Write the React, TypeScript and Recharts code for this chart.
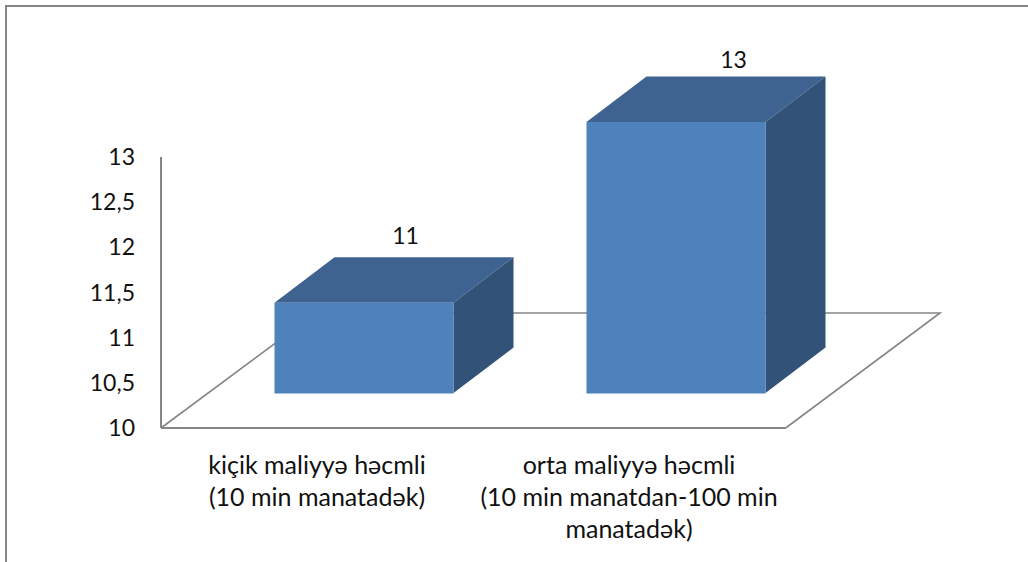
import { BarChart, Bar, XAxis, YAxis, LabelList, Customized, usePlotArea } from 'recharts';

const categories = ['kiçik maliyyə həcmli\n(10 min manatadək)', 'orta maliyyə həcmli\n(10 min manatdan-100 min\nmanatadək)'];
const values = [11, 13];
const yTicks = [10, 10.5, 11, 11.5, 12, 12.5, 13];

const data = categories.map((name, i) => ({ name, value: values[i] }));

const FONT = 'Lato, "Open Sans", sans-serif';
const AXIS = '#868686';
const TEXT = '#111111';

// fake 3d: the front face sits forward on the floor, side and top recede back by DEPTH
const SHIFT_X = 46.5;
const SHIFT_Y = -35;
const DEPTH_X = 60;
const DEPTH_Y = -45.5;
const labelNudge = [{ dx: 88, dy: -68 }, { dx: 104, dy: -63 }];

function Floor() {
  const plot = usePlotArea();
  if (!plot) return null;
  const left = plot.x;
  const right = plot.x + plot.width;
  const bottom = plot.y + plot.height;
  return (
    <polyline
      points={`${left},${bottom} ${left + 155},${bottom - 115} ${right + 155},${bottom - 115} ${right},${bottom + 0.5}`}
      fill="none"
      stroke={AXIS}
      strokeWidth={1.6}
    />
  );
}

function Box3d(props: any) {
  const { x, y, width, height } = props;
  const l = x + SHIFT_X;
  const r = l + width;
  const t = y + SHIFT_Y;
  const b = t + height;
  return (
    <g>
      <polygon points={`${l},${t} ${l + DEPTH_X},${t + DEPTH_Y} ${r + DEPTH_X},${t + DEPTH_Y} ${r},${t}`} fill="#3E6391" />
      <polygon points={`${r},${t} ${r + DEPTH_X},${t + DEPTH_Y} ${r + DEPTH_X},${b + DEPTH_Y} ${r},${b}`} fill="#325278" />
      <rect x={l} y={t} width={width} height={height} fill="#4F81BD" />
      <line x1={l} x2={r} y1={b + 0.5} y2={b + 0.5} stroke="#A5BFDE" strokeWidth={1} />
    </g>
  );
}

function CategoryTick(props: any) {
  const { x, y, payload } = props;
  const lines = String(payload.value).split('\n');
  return (
    <text x={x} y={y} textAnchor="middle" fontFamily={FONT} fontSize={25} fill={TEXT}>
      {lines.map((line, i) => (
        <tspan key={i} x={x} y={y + 38 + i * 32}>{line}</tspan>
      ))}
    </text>
  );
}

function TopLabel(props: any) {
  const { x, y, width, value, index } = props;
  const nudge = labelNudge[index];
  return (
    <text
      x={x + width / 2 + nudge.dx}
      y={y + SHIFT_Y + nudge.dy}
      textAnchor="middle"
      dominantBaseline="central"
      fontFamily={FONT}
      fontSize={23}
      fill={TEXT}
    >
      {value}
    </text>
  );
}

export default function App() {
  return (
    <div style={{ position: 'absolute', left: 0, top: 0, width: 1028, height: 562, background: '#fff', overflow: 'hidden' }}>
      <div style={{ position: 'absolute', left: 5, top: 5, width: 1023, height: 557, borderTop: `2px solid ${AXIS}`, borderLeft: `2px solid ${AXIS}` }} />
      <BarChart
        width={1028}
        height={562}
        data={data}
        margin={{ top: 157, right: 243, bottom: 64, left: 61 }}
        style={{ position: 'absolute', left: 0, top: 0 }}
      >
        <Customized component={Floor} />
        <XAxis
          dataKey="name"
          height={70}
          interval={0}
          tickLine={false}
          axisLine={{ stroke: AXIS, strokeWidth: 2 }}
          tick={CategoryTick}
        />
        <YAxis
          width={100}
          domain={[10, 13]}
          ticks={yTicks}
          interval={0}
          tickLine={false}
          tickSize={0}
          tickMargin={26}
          axisLine={{ stroke: AXIS, strokeWidth: 2 }}
          tickFormatter={(v: number) => String(v).replace('.', ',')}
          tick={{ fontFamily: FONT, fontSize: 23, fill: TEXT }}
        />
        <Bar dataKey="value" barSize={179} shape={Box3d} isAnimationActive={false}>
          <LabelList dataKey="value" content={TopLabel} />
        </Bar>
      </BarChart>
    </div>
  );
}
